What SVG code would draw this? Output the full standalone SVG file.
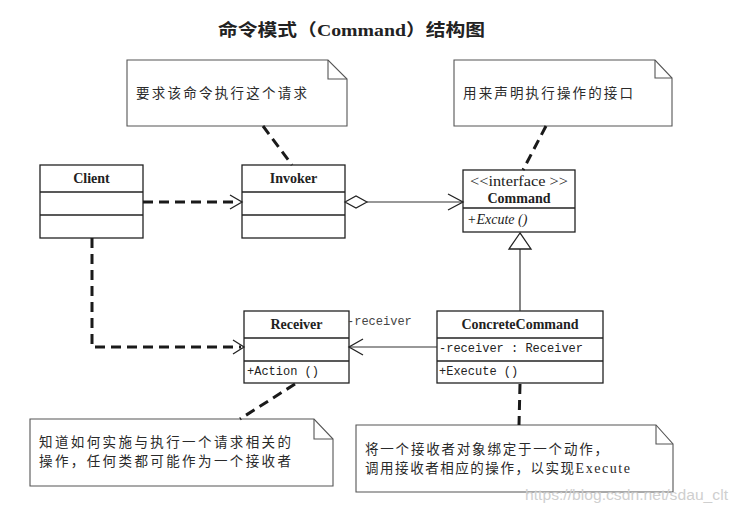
<svg xmlns="http://www.w3.org/2000/svg" width="739" height="513" viewBox="0 0 739 513">
<style>
.box{fill:#fff;stroke:#222;stroke-width:1.3}
.sep{stroke:#222;stroke-width:1.3}
.note{fill:#fff;stroke:#555;stroke-width:1.1}
.fold{fill:none;stroke:#555;stroke-width:1.1}
.hdr{font-family:"Liberation Serif","Noto Serif",serif;font-weight:bold;font-size:14px;fill:#222;text-anchor:middle}
.mono{font-family:"Liberation Mono","DejaVu Sans Mono",monospace;font-size:12px;fill:#222}
.cjk{font-family:"Noto Sans CJK SC","Noto Sans",sans-serif;font-size:13.5px;fill:#2a2a2a}
.dash{fill:none;stroke:#1a1a1a;stroke-width:3;stroke-dasharray:10 6}
.solid{fill:none;stroke:#333;stroke-width:1.2}
.head{fill:none;stroke:#222;stroke-width:1.3}
</style>
<rect width="739" height="513" fill="#fff"/>
<text x="218" y="36" textLength="267" lengthAdjust="spacingAndGlyphs" style="font-family:'Liberation Serif','Noto Sans CJK SC',serif;font-weight:bold;font-size:17px;fill:#222">命令模式（Command）结构图</text>

<g id="note-invoker">
<path class="note" d="M127,60 H328 L347,79 V126 H127 Z"/>
<path class="fold" d="M328,60 V79 H347"/>
<text class="cjk" x="136" y="98" textLength="171" lengthAdjust="spacing">要求该命令执行这个请求</text>
</g>
<g id="note-command">
<path class="note" d="M454,60 H655 L672,78 V126 H454 Z"/>
<path class="fold" d="M655,60 V78 H672"/>
<text class="cjk" x="463" y="98" textLength="170" lengthAdjust="spacing">用来声明执行操作的接口</text>
</g>
<g id="note-receiver">
<path class="note" d="M30,419 H314 L333,439 V486 H30 Z"/>
<path class="fold" d="M314,419 V439 H333"/>
<text class="cjk" x="39" y="447" textLength="252" lengthAdjust="spacing">知道如何实施与执行一个请求相关的</text>
<text class="cjk" x="39" y="466" textLength="252" lengthAdjust="spacing">操作，任何类都可能作为一个接收者</text>
</g>
<g id="note-concrete">
<path class="note" d="M356,425 H656 L673,444 V492 H356 Z"/>
<path class="fold" d="M656,425 V444 H673"/>
<text class="cjk" x="365" y="454" textLength="243" lengthAdjust="spacing">将一个接收者对象绑定于一个动作，</text>
<text class="cjk" x="365" y="473" textLength="265" lengthAdjust="spacing">调用接收者相应的操作，以实现<tspan style="font-family:'Liberation Serif',serif;font-size:14px">Execute</tspan></text>
</g>

<g id="client">
<rect class="box" x="40" y="165" width="103" height="73"/>
<line class="sep" x1="40" y1="192" x2="143" y2="192"/>
<line class="sep" x1="40" y1="215" x2="143" y2="215"/>
<text class="hdr" x="91.5" y="183">Client</text>
</g>
<g id="invoker">
<rect class="box" x="242" y="165" width="103" height="73"/>
<line class="sep" x1="242" y1="192" x2="345" y2="192"/>
<line class="sep" x1="242" y1="215" x2="345" y2="215"/>
<text class="hdr" x="293.5" y="183">Invoker</text>
</g>
<g id="command">
<rect class="box" x="463" y="170" width="112" height="62"/>
<line class="sep" x1="463" y1="208" x2="575" y2="208"/>
<text x="470" y="186" textLength="98" lengthAdjust="spacingAndGlyphs" style="font-family:'Liberation Serif',serif;font-size:15px;fill:#222">&lt;&lt;interface &gt;&gt;</text>
<text class="hdr" x="519" y="203">Command</text>
<text x="467" y="224" style="font-family:'Liberation Serif',serif;font-style:italic;font-size:14px;fill:#222">+Excute ()</text>
</g>
<g id="receiver">
<rect class="box" x="244" y="311" width="105" height="72"/>
<line class="sep" x1="244" y1="338" x2="349" y2="338"/>
<line class="sep" x1="244" y1="361" x2="349" y2="361"/>
<text class="hdr" x="296.5" y="329">Receiver</text>
<text class="mono" x="247" y="375">+Action ()</text>
</g>
<g id="concrete-command">
<rect class="box" x="437" y="311" width="166" height="72"/>
<line class="sep" x1="437" y1="338" x2="603" y2="338"/>
<line class="sep" x1="437" y1="361" x2="603" y2="361"/>
<text class="hdr" x="520" y="329">ConcreteCommand</text>
<text class="mono" x="439" y="352">-receiver  : Receiver</text>
<text class="mono" x="439" y="375">+Execute ()</text>
</g>

<g id="connectors">
<line class="dash" x1="143" y1="202" x2="239" y2="202"/>
<path class="head" d="M230,195 L242,202 L230,209"/>
<path class="dash" d="M92,238 V347 H241"/>
<path class="head" d="M233,340 L244,347 L233,354"/>
<path d="M345,202 L356,196 L367,202 L356,208 Z" fill="#fff" stroke="#222" stroke-width="1.2"/>
<line class="solid" x1="367" y1="202" x2="462" y2="202"/>
<path class="head" d="M448,194 L463,202 L448,210"/>
<line class="solid" x1="520" y1="249" x2="520" y2="311"/>
<path d="M520,233 L509,249 L531,249 Z" fill="#fff" stroke="#222" stroke-width="1.3"/>
<line class="solid" x1="437" y1="347" x2="350" y2="347"/>
<path class="head" d="M363,339 L349,347 L363,355"/>
<text class="mono" x="347" y="325" style="fill:#444">-receiver</text>
<line class="dash" x1="263" y1="126" x2="292" y2="165"/>
<line class="dash" x1="546" y1="126" x2="523" y2="170"/>
<line class="dash" x1="295" y1="384" x2="240" y2="419"/>
<line class="dash" x1="520" y1="384" x2="519" y2="425"/>
</g>

<text x="525" y="500" textLength="203" lengthAdjust="spacingAndGlyphs" style="font-family:'Liberation Sans',sans-serif;font-size:14px;fill:#cfcfcf">https://blog.csdn.net/sdau_clt</text>
</svg>
